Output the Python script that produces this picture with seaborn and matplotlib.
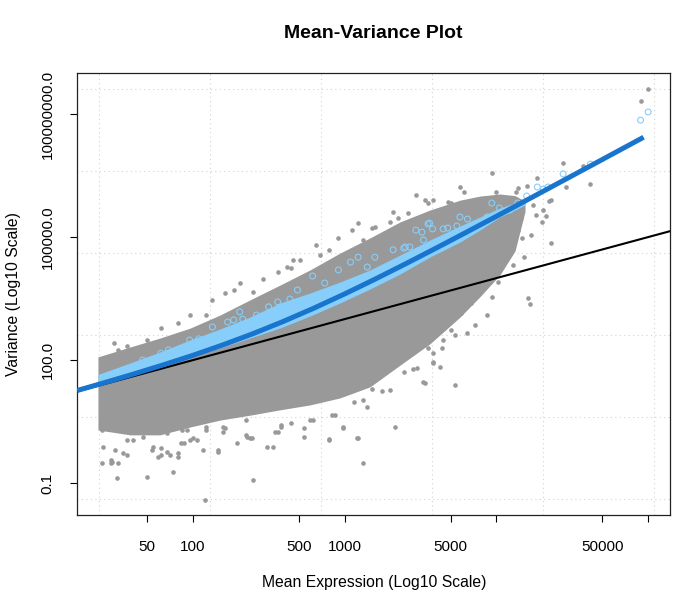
import numpy as np
import pandas as pd
import matplotlib
matplotlib.use("Agg")
import matplotlib.pyplot as plt
import seaborn as sns

# ---------------- data (log10 units) ----------------
# per-gene cloud: envelope of the dense region along mean
cloud_log_mean = [1.376, 1.587, 1.785, 1.982, 2.180, 2.378, 2.575, 2.773, 2.970,
                  3.168, 3.366, 3.563, 3.761, 3.893, 4.024, 4.123, 4.189]
cloud_log_var_hi = [2.08, 2.32, 2.54, 2.78, 3.10, 3.47, 3.83, 4.20, 4.61,
                    4.98, 5.37, 5.66, 5.90, 6.00, 6.05, 6.01, 5.88]
cloud_log_var_lo = [0.30, 0.18, 0.18, 0.37, 0.54, 0.66, 0.79, 0.91, 1.08,
                    1.35, 1.88, 2.40, 3.05, 3.55, 4.08, 4.66, 5.62]

# scattered individual genes outside the dense cloud
gene_log_mean = [
    1.48, 1.51, 1.57, 1.70, 1.79, 1.90, 1.98, 2.09, 2.13, 2.21, 2.27, 2.31, 2.46, 2.56, 2.62, 2.66, 2.40,
    1.41, 1.50, 1.70, 1.73, 1.79, 1.87, 1.90, 2.07, 2.17, 2.29, 2.40, 2.49, 2.58, 2.65, 1.40, 1.46, 1.54,
    1.57, 1.67, 1.83, 1.98, 2.09, 2.20, 2.36, 2.35, 1.40, 1.46, 1.51, 1.57, 1.61, 1.74, 1.77, 1.83, 1.93,
    2.03, 2.08,
    2.53, 2.73, 2.90, 3.08, 3.12, 2.99, 3.33, 2.58, 2.00, 1.94, 1.96, 2.21, 2.35, 2.38, 2.54, 2.77, 2.92,
    3.06, 3.12, 3.16, 3.25, 3.30, 3.18, 3.39, 3.45, 3.53, 3.58, 3.55, 3.45,
    4.44, 4.57, 4.62, 4.46, 4.35, 4.31, 4.30, 4.36, 4.27, 4.20, 4.14, 4.00, 3.97, 3.79, 3.70, 3.58, 3.61,
    3.85, 4.02, 4.07, 4.14, 4.16, 4.26, 4.18, 4.11, 4.04, 3.96, 3.89, 3.94, 3.97, 3.85, 3.77, 3.94, 3.86,
    3.77, 3.71, 3.70, 4.21, 4.22, 4.01, 3.95, 3.81, 3.65, 3.61, 3.54, 3.64, 3.73,
    5.00, 4.95, 4.33, 4.24, 4.23, 4.13,
    3.47, 3.55, 3.68, 3.87, 4.06, 3.73, 3.58, 3.52, 3.48, 3.30, 2.81, 2.96, 3.05, 3.09, 3.18, 3.30, 3.35,
    3.42, 3.74, 2.65, 2.71, 2.84, 2.90,
    1.47, 1.49, 1.79, 1.85, 1.90, 1.92, 2.17, 2.39, 2.56, 2.73, 2.79, 2.90, 2.94, 2.99, 3.09, 3.15, 2.20,
    2.09,
    4.36, 4.09, 4.17, 4.10, 3.88, 3.83, 3.70, 3.63, 3.58, 3.52, 3.51, 3.76, 3.53, 3.32, 3.20, 3.12, 3.19]
gene_log_var = [
    2.42, 2.25, 2.35, 2.49, 2.79, 2.91, 3.10, 3.10, 3.47, 3.64, 3.71, 3.88, 3.98, 4.15, 4.27, 4.44, 3.66,
    -0.12, -0.87, -0.85, -0.19, -0.14, -0.72, -0.36, -0.19, -0.19, -0.02, -0.92, -0.12, 0.37, 0.47, -0.51, -0.43, -0.26,
    0.06, 0.13, 0.23, 0.06, 0.30, 0.25, 0.13, 0.54, 0.30, -0.51, -0.51, -0.31, 0.06, -0.12, -0.36, -0.24, 0.30,
    0.06, -1.41,
    -0.12, 0.13, 0.08, 0.10, -0.51, 0.35, 0.37, 0.42, 0.10, -0.02, 0.30, 0.35, 0.18, 0.10, 0.25, 0.54, 0.66,
    0.98, 1.03, 1.59, 1.25, 1.27, 1.30, 1.71, 1.79, 1.44, 1.93, 2.30, 2.25,
    6.81, 6.73, 6.29, 6.22, 5.88, 5.66, 5.37, 4.86, 6.44, 6.25, 6.20, 6.10, 6.56, 6.10, 5.83, 5.90, 5.61,
    5.78, 5.22, 5.00, 5.17, 5.47, 5.54, 4.52, 4.32, 4.37, 4.61, 4.69, 5.00, 3.54, 3.71, 3.54, 3.10, 2.86,
    3.15, 3.39, 2.98, 3.52, 3.37, 3.91, 4.13, 2.66, 2.49, 2.98, 2.57, 2.30, 2.61,
    8.61, 8.32, 5.51, 5.78, 5.05, 6.09,
    6.03, 5.83, 5.86, 5.61, 5.17, 1.40, 2.18, 2.44, 1.81, 1.83, 4.81, 4.98, 5.17, 5.34, 5.22, 5.37, 5.46,
    5.59, 5.73, 4.25, 4.44, 4.56, 4.69,
    -0.48, -0.19, -0.31, -0.31, -0.26, -0.02, -0.24, 0.10, 0.25, 0.35, 0.54, 0.06, 0.66, 0.37, 0.10, 0.86, 0.37,
    0.37,
    5.90, 4.76, 4.98, 5.42, 3.71, 3.39, 2.74, 1.83, 1.96, 1.47, 2.42, 6.22, 5.90, 5.61, 5.25, 4.93, 4.93]

# pooled values (light blue): dense band and scattered open circles
band_log_mean = [1.376, 1.587, 1.785, 1.982, 2.180, 2.378, 2.575, 2.773, 2.970,
                 3.168, 3.366, 3.563, 3.761, 3.893, 4.024, 4.123, 4.189]
band_log_var_hi = [1.651, 1.931, 2.199, 2.492, 2.760, 3.052, 3.394, 3.637, 3.905,
                   4.198, 4.563, 4.929, 5.270, 5.490, 5.709, 5.831, 5.929]
band_log_var_lo = [1.383, 1.614, 1.834, 2.078, 2.297, 2.541, 2.784, 3.077, 3.394,
                   3.735, 4.100, 4.515, 4.880, 5.173, 5.490, 5.660, 5.782]
pooled_log_mean = [1.47, 1.52, 1.67, 1.79, 1.84, 1.98, 2.04, 2.13, 2.23, 2.27, 2.31, 2.33, 2.42, 2.50,
                   2.56, 2.64, 2.69, 2.79, 2.87, 2.96, 3.04, 3.09, 3.15, 3.20, 3.32, 3.40, 3.47, 3.52,
                   3.55, 3.58, 3.65, 3.68, 3.74, 3.76, 3.81, 3.97, 4.02, 4.09, 4.14, 4.20, 4.27, 4.31,
                   4.34, 4.44, 4.62, 4.95, 5.00,
                   3.56, 3.51, 3.39, 3.43, 3.89, 3.94]
pooled_log_var = [1.59, 1.59, 2.00, 2.17, 2.25, 2.49, 2.52, 2.81, 2.93, 2.98, 3.18, 3.00, 3.10, 3.30,
                  3.42, 3.49, 3.71, 4.05, 3.88, 4.20, 4.39, 4.51, 4.27, 4.51, 4.69, 4.76, 5.17, 4.93,
                  5.32, 5.20, 5.20, 5.22, 5.27, 5.49, 5.44, 5.83, 5.71, 5.66, 5.83, 6.00, 6.22, 6.17,
                  6.22, 6.54, 6.78, 7.85, 8.05,
                  5.34, 5.12, 4.73, 4.76, 5.37, 5.49]

# fitted mean-variance curve (blue) and Poisson reference (black)
fit_log_mean = [1.238, 1.4, 1.6, 1.8, 2.0, 2.2, 2.4, 2.6, 2.8, 3.0, 3.2, 3.4, 3.6, 3.8,
                4.0, 4.2, 4.4, 4.6, 4.8, 4.97]
fit_log_var = [1.260, 1.432, 1.650, 1.878, 2.117, 2.374, 2.650, 2.949, 3.271, 3.613, 3.972,
               4.344, 4.725, 5.113, 5.505, 5.900, 6.297, 6.695, 7.094, 7.433]
poisson_mean = [10.0, 200000.0]
poisson_var = [10.0, 200000.0]

x_ticks = [50, 100, 500, 1000, 5000, 10000, 50000, 100000]
x_tick_labels = ["50", "100", "500", "1000", "5000", "", "50000", ""]
y_ticks = [0.1, 100.0, 100000.0, 100000000.0]
y_tick_labels = ["0.1", "100.0", "100000.0", "100000000.0"]

# ---------------- plotting ----------------
sns.set_style("white")
plt.rcParams["font.family"] = ["Liberation Sans", "DejaVu Sans"]
plt.rcParams["text.color"] = "black"
plt.rcParams["xtick.color"] = "black"
plt.rcParams["ytick.color"] = "black"
plt.rcParams["axes.labelcolor"] = "black"

W, H = 683, 606
fig = plt.figure(figsize=(W / 100, H / 100), dpi=100)
ax = fig.add_axes([77 / W, 1 - 515 / H, (670 - 77) / W, (515 - 73) / H])
ax.set_xscale("log")
ax.set_yscale("log")

# dotted grid (R grid(): equally spaced in log space)
for gx in np.linspace(1.383, 5.039, 6):
    ax.axvline(10 ** gx, color="#d3d3d3", lw=0.8, ls=(0, (1, 3)), zorder=0)
for gy in np.linspace(-1.391, 8.617, 6):
    ax.axhline(10 ** gy, color="#d3d3d3", lw=0.8, ls=(0, (1, 3)), zorder=0)

gray = "#999999"
lightblue = "#87CEFA"
blue = "#1874CD"

cloud = pd.DataFrame({"mean": 10 ** np.array(cloud_log_mean),
                      "hi": 10 ** np.array(cloud_log_var_hi),
                      "lo": 10 ** np.array(cloud_log_var_lo)})
ax.fill_between(cloud["mean"], cloud["lo"], cloud["hi"], color=gray, lw=0, zorder=1)

genes = pd.DataFrame({"mean": 10 ** np.array(gene_log_mean), "var": 10 ** np.array(gene_log_var)})
sns.scatterplot(data=genes, x="mean", y="var", ax=ax, color=gray, s=11, linewidth=0,
                marker="o", zorder=2, legend=False)

band = pd.DataFrame({"mean": 10 ** np.array(band_log_mean),
                     "hi": 10 ** np.array(band_log_var_hi),
                     "lo": 10 ** np.array(band_log_var_lo)})
ax.fill_between(band["mean"], band["lo"], band["hi"], color=lightblue, lw=0, zorder=3)

pooled = pd.DataFrame({"mean": 10 ** np.array(pooled_log_mean), "var": 10 ** np.array(pooled_log_var)})
sns.scatterplot(data=pooled, x="mean", y="var", ax=ax, facecolor="none", edgecolor=lightblue,
                s=18, linewidth=0.8, marker="o", zorder=4, legend=False)

pois = pd.DataFrame({"mean": poisson_mean, "var": poisson_var})
sns.lineplot(data=pois, x="mean", y="var", ax=ax, color="black", lw=1.5, zorder=5,
             estimator=None, sort=False)

fit = pd.DataFrame({"mean": 10 ** np.array(fit_log_mean), "var": 10 ** np.array(fit_log_var)})
sns.lineplot(data=fit, x="mean", y="var", ax=ax, color=blue, lw=3.6, zorder=6,
             estimator=None, sort=False, solid_capstyle="butt")

ax.set_xlim(10 ** 1.238, 10 ** 5.144)
ax.set_ylim(10 ** -1.773, 10 ** 8.999)

ax.set_xticks(x_ticks)
ax.set_xticklabels(x_tick_labels)
ax.set_yticks(y_ticks)
ax.set_yticklabels(y_tick_labels)
ax.xaxis.set_minor_locator(matplotlib.ticker.NullLocator())
ax.yaxis.set_minor_locator(matplotlib.ticker.NullLocator())
ax.tick_params(axis="both", which="major", length=5, width=0.8, color="black",
               labelsize=11, labelcolor="black", bottom=True, left=True, direction="out")
ax.tick_params(axis="x", pad=13)
ax.tick_params(axis="y", pad=11, labelrotation=90)
for lab in ax.get_yticklabels():
    lab.set_va("center")
for s in ax.spines.values():
    s.set_color("#222222")
    s.set_linewidth(0.9)
ax.set_xlabel("")
ax.set_ylabel("")

fig.text(373.5 / W, 1 - 33 / H, "Mean-Variance Plot", ha="center", va="center",
         fontsize=14, fontweight="bold", color="black")
fig.text(374 / W, 1 - 582 / H, "Mean Expression (Log10 Scale)", ha="center", va="center",
         fontsize=11.3, color="black")
fig.text(14 / W, 1 - 294 / H, "Variance (Log10 Scale)", ha="center", va="center",
         fontsize=11.3, rotation=90, color="black")

fig.savefig("out.png", dpi=100)
